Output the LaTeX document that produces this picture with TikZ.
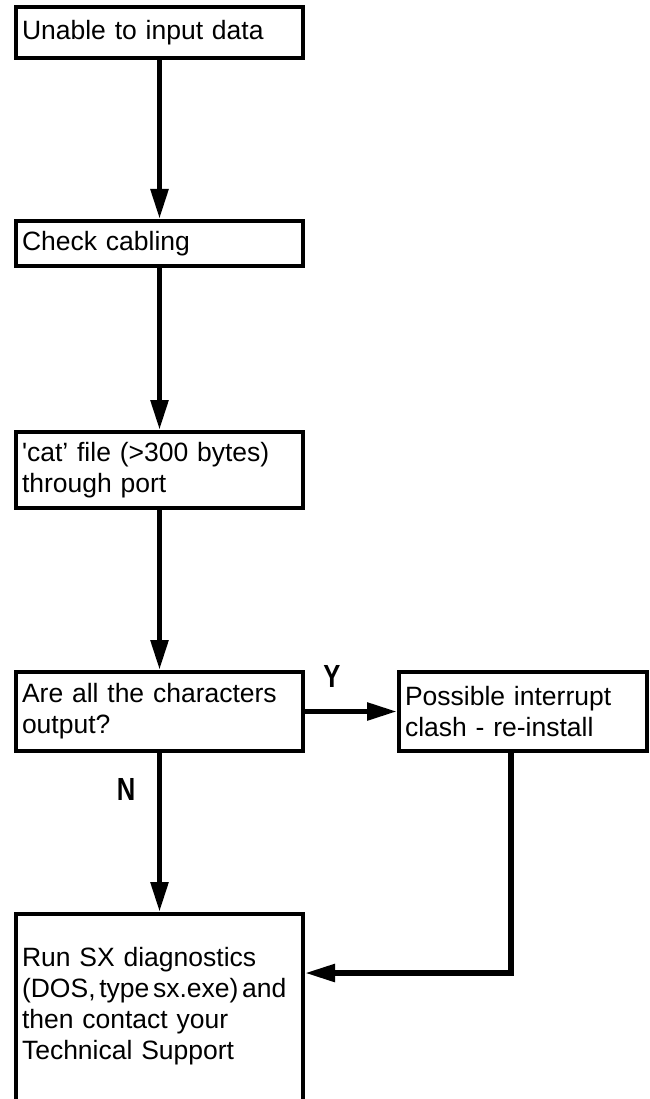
\documentclass[tikz,border=0pt]{standalone}
\usepackage{fontspec}
\setmainfont{Liberation Sans}
\usepackage{tikz}
\usetikzlibrary{arrows.meta, calc, positioning}

\begin{document}
\begin{tikzpicture}[x=1pt, y=-1pt,
		box/.style={draw, line width=4pt, rectangle, anchor=north west,
			minimum width=287pt, text width=275pt, inner xsep=6pt, align=left,
			font=\fontsize{26.5}{31}\selectfont},
		flow/.style={line width=5.5pt, -{Triangle[length=30pt, width=17pt]}},
		answer/.style={font=\fontsize{32}{32}\selectfont\bfseries, xscale=0.8}]

					\useasboundingbox (0,0) rectangle (649,1099);

					% left column
					\node (input) [box, minimum height=51pt] at (14,5) {Unable to input data};
					\node (cabling) [box, minimum height=45pt] at (14,219) {Check cabling};
					\node (catfile) [box, minimum height=76pt] at (14,430) {\textquotesingle cat’ file (>300 bytes)\\through port};
					\node (chars) [box, minimum height=79pt] at (14,670) {Are all the characters\\output?};
					\node (diag) [box, minimum height=210pt] at (14,912) {Run SX diagnostics\\\mbox{\spaceskip=0.14em\relax (DOS, type sx.exe) and}\\then contact your\\Technical Support\\\mbox{}};

					% right branch
					\node (clash) [box, minimum width=248pt, text width=236pt, minimum height=79pt] at (397,670) {Possible interrupt\\clash - re-install};

					\coordinate (drop) at (511,973);

					\draw[flow] (input) -- (cabling);
					\draw[flow] (cabling) -- (catfile);
					\draw[flow] (catfile) -- (chars);
					\draw[flow] (chars) -- (diag);
					\draw[flow] (chars) -- (clash);
					\draw[flow] (drop |- clash.south) -- (drop) -- (drop -| diag.east);

					\node[answer] (yes) at (332,676) {Y};
					\node[answer] (no) at (126,789) {N};
				\end{tikzpicture}
\end{document}
